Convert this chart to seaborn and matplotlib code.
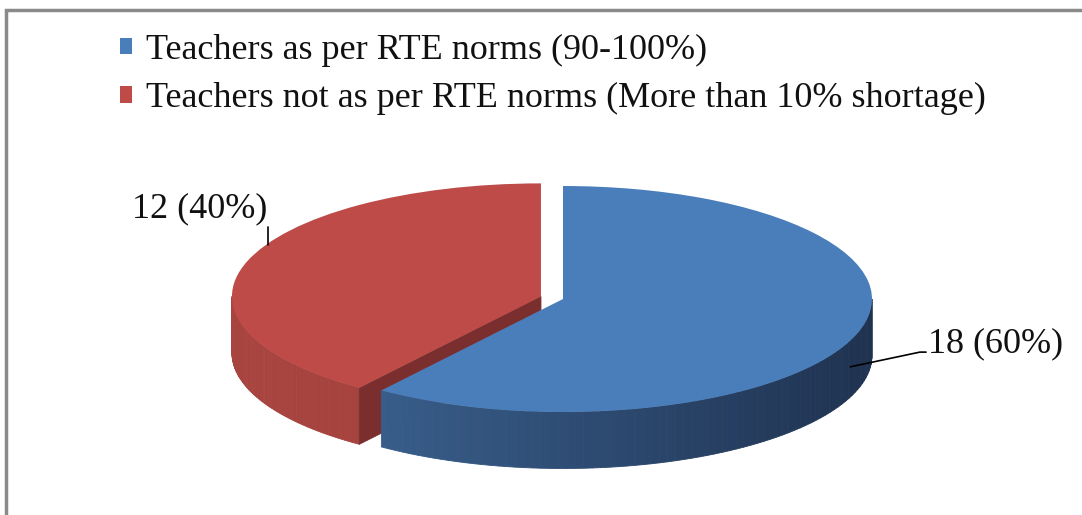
import numpy as np
import matplotlib
matplotlib.use("Agg")
import matplotlib.pyplot as plt
import matplotlib.colors as mcolors
from matplotlib.patches import Rectangle
import seaborn as sns

# data
labels = ["Teachers as per RTE norms (90-100%)",
          "Teachers not as per RTE norms (More than 10% shortage)"]
counts = [18, 12]
percents = [60, 40]

top_colors = ["#4A7EBB", "#BE4B48"]
side_colors = [("#3E6898", "#1F3250"), ("#A8443F", "#983C39")]
cut_color = "#7A2F2E"
explode = [0, 0.075]

DEPTH = 0.5   # thickness of the pie, in units of the (squashed) radius
FS = 26


def draw_side(ax, wedge, c_left, c_right, z):
    # visible outer wall = part of the arc on the front (lower) half
    cx, cy = wedge.center
    lo = max(wedge.theta1, -180)
    hi = min(wedge.theta2, 0)
    if hi <= lo:
        return
    t = np.radians(np.linspace(lo, hi, 80))
    x = cx + wedge.r * np.cos(t)
    y = cy + wedge.r * np.sin(t)
    cl = np.array(mcolors.to_rgb(c_left))
    cr = np.array(mcolors.to_rgb(c_right))
    for i in range(len(t) - 1):
        f = (x[i] + 1) / 2
        c = cl * (1 - f) + cr * f
        ax.fill([x[i], x[i + 1], x[i + 1], x[i]],
                [y[i], y[i + 1], y[i + 1] - DEPTH, y[i] - DEPTH],
                color=c, lw=0.6, zorder=z)


def main():
    sns.set_theme(style="white")
    plt.rcParams["font.family"] = ["Liberation Serif", "DejaVu Serif"]

    fig = plt.figure(figsize=(10.82, 5.15), dpi=100)
    ax = fig.add_axes([0, 0, 1, 1])

    wedges, _ = ax.pie(counts, colors=top_colors, explode=explode, startangle=90,
                       counterclock=False, wedgeprops=dict(linewidth=0))

    blue, red = wedges
    red.set_zorder(2)
    blue.set_zorder(4)

    # side walls
    draw_side(ax, red, side_colors[1][0], side_colors[1][1], 1)
    draw_side(ax, blue, side_colors[0][0], side_colors[0][1], 3)

    # cut face of the exploded slice
    cx, cy = red.center
    a = np.radians(red.theta2)
    ex, ey = cx + red.r * np.cos(a), cy + red.r * np.sin(a)
    ax.fill([cx, ex, ex, cx], [cy, ey, ey - DEPTH, cy - DEPTH],
            color=cut_color, lw=0.6, zorder=1.5)

    # data labels
    ax.text(1.18, -0.40, f"{counts[0]} ({percents[0]}%)", ha="left", va="center",
            fontsize=FS, color="#111111", zorder=6)
    ax.plot([0.93, 1.155, 1.175], [-0.60, -0.47, -0.47], color="black", lw=1.2, zorder=6)

    ax.text(-0.958, 0.80, f"{counts[1]} ({percents[1]}%)", ha="right", va="center",
            fontsize=FS, color="#111111", zorder=6)
    ax.plot([-0.955, -0.955], [0.48, 0.64], color="black", lw=1.2, zorder=6)

    ax.set_aspect("auto")
    ax.set_xlim(-563 / 309, 519 / 309)
    ax.set_ylim(-216 / 113, 299 / 113)
    ax.axis("off")

    ax.legend(wedges, labels, loc="upper left", bbox_to_anchor=(120 / 1082, 1 - 34 / 515),
              bbox_transform=fig.transFigure, frameon=False, fontsize=FS,
              handlelength=0.33, handleheight=0.33, handletextpad=0.4,
              labelspacing=0.42, borderpad=0, borderaxespad=0,
              labelcolor="#111111")

    # outer chart frame
    fig.add_artist(Rectangle((6 / 1082, -0.1), 1.2, 1 - 10 / 515 + 0.1,
                             transform=fig.transFigure, fill=False,
                             edgecolor="#8a8a8a", lw=2.5))

    fig.savefig("out.png", dpi=100, facecolor="white")


if __name__ == "__main__":
    main()
